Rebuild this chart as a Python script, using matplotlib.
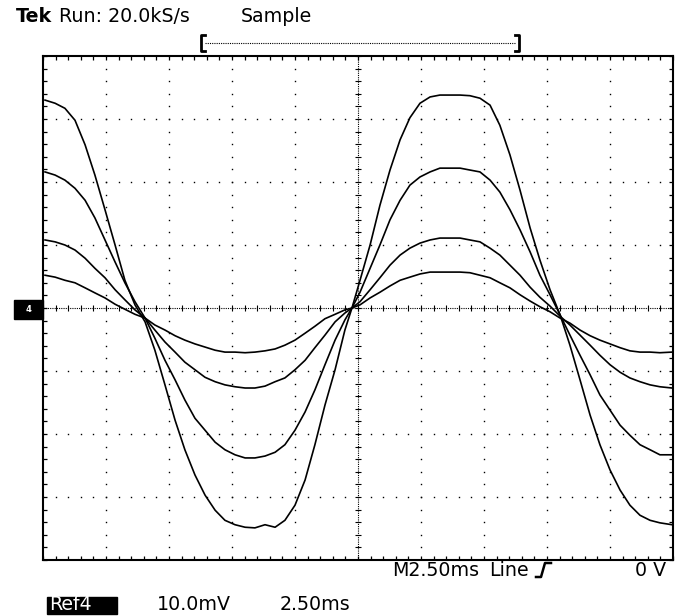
import numpy as np
import matplotlib
matplotlib.use("Agg")
import matplotlib.pyplot as plt
from matplotlib.lines import Line2D
from matplotlib.patches import Rectangle

# time axis (ms) shared by the four reference traces
time_ms = [-12.42, -12.02, -11.63, -11.23, -10.83, -10.44, -10.04, -9.64, -9.25, -8.85,
           -8.45, -8.06, -7.66, -7.26, -6.87, -6.47, -6.07, -5.67, -5.28, -4.88,
           -4.48, -4.09, -3.69, -3.29, -2.90, -2.50, -2.10, -1.71, -1.31, -0.91,
           -0.52, -0.24, 0.08, 0.48, 0.87, 1.27, 1.67, 2.06, 2.46, 2.86,
           3.25, 3.65, 4.05, 4.44, 4.84, 5.24, 5.63, 6.03, 6.43, 6.83,
           7.22, 7.62, 8.02, 8.41, 8.81, 9.21, 9.60, 10.00, 10.40, 10.79,
           11.19, 11.59, 11.98, 12.46]

# voltages (mV)
trace_a = [33.0, 32.5, 31.7, 29.8, 25.9, 21.1, 15.6, 10.0, 4.4, 0.5,
           -2.2, -6.7, -12.2, -17.8, -22.5, -26.5, -29.7, -32.1, -33.7, -34.4,
           -34.8, -34.9, -34.4, -34.8, -33.7, -31.3, -27.3, -21.7, -15.4, -9.8,
           -3.5, 0.0, 4.4, 10.0, 16.3, 21.9, 26.7, 30.2, 32.5, 33.5,
           33.8, 33.8, 33.8, 33.7, 33.3, 32.2, 29.0, 24.3, 18.7, 12.7,
           7.6, 2.9, -1.1, -5.9, -11.4, -17.0, -21.7, -25.7, -28.9, -31.3,
           -32.9, -33.7, -34.1, -34.4]
trace_b = [21.6, 21.1, 20.3, 19.0, 17.1, 14.3, 10.8, 7.3, 4.0, 1.0,
           -1.6, -4.8, -8.3, -11.4, -14.6, -17.5, -19.4, -21.3, -22.5, -23.3,
           -23.8, -23.8, -23.5, -22.9, -21.7, -19.4, -16.5, -13.0, -9.0, -5.1,
           -1.9, 0.0, 2.5, 6.3, 10.0, 14.0, 17.1, 19.5, 20.8, 21.6,
           22.2, 22.2, 22.2, 21.9, 21.6, 20.3, 18.4, 15.6, 12.4, 8.9,
           5.2, 2.1, -1.1, -4.3, -7.5, -10.6, -13.8, -16.2, -18.6, -20.2,
           -21.7, -22.5, -23.3, -23.3]
trace_c = [10.8, 10.5, 10.0, 9.2, 7.9, 6.3, 4.8, 2.9, 1.3, -0.3,
           -1.6, -3.5, -5.4, -7.0, -8.6, -9.8, -11.0, -11.7, -12.2, -12.5,
           -12.7, -12.7, -12.4, -11.7, -11.1, -9.8, -8.3, -6.3, -4.3, -2.2,
           -0.8, 0.0, 1.0, 2.9, 4.8, 6.8, 8.4, 9.5, 10.3, 10.8,
           11.1, 11.1, 11.1, 10.8, 10.5, 9.5, 8.4, 6.8, 5.2, 3.3,
           1.7, 0.3, -1.3, -2.7, -4.3, -5.9, -7.5, -9.0, -10.2, -11.1,
           -11.7, -12.2, -12.5, -12.7]
trace_d = [5.2, 4.9, 4.4, 4.0, 3.2, 2.4, 1.6, 0.6, -0.2, -1.0,
           -1.6, -2.7, -3.5, -4.4, -5.1, -5.7, -6.2, -6.7, -7.0, -7.0,
           -7.1, -7.0, -6.8, -6.5, -5.9, -5.1, -4.0, -2.9, -1.7, -1.0,
           -0.3, 0.0, 0.5, 1.6, 2.5, 3.5, 4.4, 4.9, 5.4, 5.7,
           5.7, 5.7, 5.7, 5.6, 5.2, 4.8, 4.0, 3.2, 2.1, 1.1,
           0.2, -0.6, -1.6, -2.4, -3.5, -4.4, -5.1, -5.7, -6.3, -6.8,
           -7.0, -7.0, -7.1, -7.0]

ms_per_div = 2.5
mv_per_div = 10.0

W, H = 681, 616
fig = plt.figure(figsize=(W / 100, H / 100), dpi=100)
fig.patch.set_facecolor("white")
ax = fig.add_axes([43 / W, 56 / H, 630 / W, 504 / H])
ax.set_xlim(-5 * ms_per_div, 5 * ms_per_div)
ax.set_ylim(-4 * mv_per_div, 4 * mv_per_div)

# graticule dots
dot_y = np.arange(-4 * mv_per_div, 4 * mv_per_div + 0.01, mv_per_div / 5)
dot_x = np.arange(-5 * ms_per_div, 5 * ms_per_div + 0.01, ms_per_div / 5)
for gx in np.arange(-4, 5) * ms_per_div:
    if gx == 0:
        continue
    ax.plot(np.full(len(dot_y), gx), dot_y, ls="none", marker="s", ms=1.0, mew=0, color="black")
for gy in np.arange(-3, 4) * mv_per_div:
    if gy == 0:
        continue
    ax.plot(dot_x, np.full(len(dot_x), gy), ls="none", marker="s", ms=1.0, mew=0, color="black")

# centre crosshair with small ticks
ax.axhline(0, color="black", lw=0.8, ls=(0, (1, 1)))
ax.axvline(0, color="black", lw=0.8, ls=(0, (1, 1)))
ax.plot(dot_x, np.zeros(len(dot_x)), ls="none", marker="|", ms=5, mew=0.8, color="black")
ax.plot(np.zeros(len(dot_y)), dot_y, ls="none", marker="_", ms=5, mew=0.8, color="black")

for tr in [trace_a, trace_b, trace_c, trace_d]:
    ax.plot(time_ms, tr, color="black", lw=1.2)

ax.set_xticks(dot_x)
ax.set_yticks(dot_y)
ax.tick_params(which="both", direction="in", length=3, width=0.9, top=True, right=True,
               labelbottom=False, labelleft=False)
for s in ax.spines.values():
    s.set_linewidth(1.5)


def fx(x):
    return x / W


def fy(y):
    return 1 - y / H


fs = 13.7
fig.text(fx(16), fy(16), "Tek", fontsize=fs, fontweight="bold", va="center", ha="left")
fig.text(fx(59), fy(16), "Run: 20.0kS/s", fontsize=fs, va="center", ha="left")
fig.text(fx(241), fy(16), "Sample", fontsize=fs, va="center", ha="left")

# record bracket
fig.add_artist(Line2D([fx(205), fx(201), fx(201), fx(205)], [fy(35), fy(35), fy(51), fy(51)],
                      color="black", lw=2))
fig.add_artist(Line2D([fx(515), fx(519), fx(519), fx(515)], [fy(35), fy(35), fy(51), fy(51)],
                      color="black", lw=2))
fig.add_artist(Line2D([fx(205), fx(515)], [fy(43), fy(43)], color="black", lw=0.8, ls=(0, (1, 1))))

# channel marker
fig.add_artist(Rectangle((fx(14), fy(319)), 29 / W, 19 / H, color="black", transform=fig.transFigure))
fig.text(fx(29), fy(309), "4", fontsize=6, color="white", va="center", ha="center", fontweight="bold")

# bottom readouts
fig.text(fx(392), fy(570), "M2.50ms", fontsize=fs, va="center", ha="left")
fig.text(fx(489), fy(570), "Line", fontsize=fs, va="center", ha="left")
fig.add_artist(Line2D([fx(536), fx(541), fx(545), fx(551)], [fy(577), fy(577), fy(563), fy(563)],
                      color="black", lw=1.8))
fig.text(fx(666), fy(570), "0 V", fontsize=fs, va="center", ha="right")

fig.add_artist(Rectangle((fx(47), fy(614)), 70 / W, 17 / H, color="black", transform=fig.transFigure))
fig.text(fx(49), fy(605), "Ref4", fontsize=fs, color="white", va="center", ha="left")
fig.text(fx(157), fy(605), "10.0mV", fontsize=fs, va="center", ha="left")
fig.text(fx(280), fy(605), "2.50ms", fontsize=fs, va="center", ha="left")

fig.savefig("out.png", dpi=100, facecolor="white")
